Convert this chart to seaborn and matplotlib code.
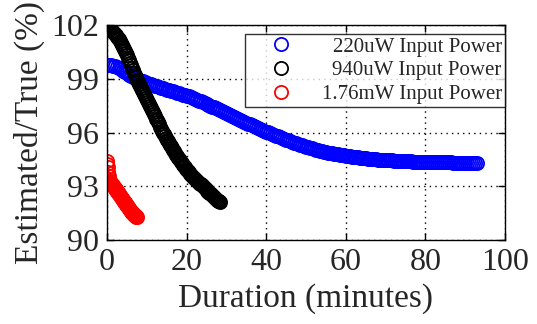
import numpy as np
import pandas as pd
import matplotlib
matplotlib.use("Agg")
import matplotlib.pyplot as plt
import seaborn as sns

# (Estimated/True % vs minutes)
labels = ["220uW Input Power", "940uW Input Power", "1.76mW Input Power"]
colors = ["#0000ff", "#000000", "#ff0000"]

# 220uW: one sample per half minute
step_220 = 0.5
y_220 = [99.75, 99.75, 99.75, 99.73, 99.70, 99.65, 99.60, 99.53, 99.45, 99.38,
         99.30, 99.22, 99.15, 99.10, 99.05, 99.00, 98.95, 98.90, 98.85, 98.80,
         98.75, 98.72, 98.68, 98.65, 98.61, 98.58, 98.54, 98.51, 98.47, 98.44,
         98.40, 98.37, 98.33, 98.30, 98.26, 98.23, 98.19, 98.16, 98.12, 98.09,
         98.05, 98.01, 97.96, 97.92, 97.87, 97.83, 97.78, 97.74, 97.69, 97.65,
         97.60, 97.55, 97.50, 97.45, 97.40, 97.35, 97.30, 97.25, 97.20, 97.15,
         97.10, 97.05, 96.99, 96.94, 96.88, 96.83, 96.77, 96.72, 96.66, 96.61,
         96.55, 96.50, 96.45, 96.40, 96.35, 96.30, 96.25, 96.20, 96.15, 96.10,
         96.05, 96.01, 95.96, 95.92, 95.87, 95.83, 95.78, 95.74, 95.69, 95.65,
         95.60, 95.56, 95.52, 95.48, 95.44, 95.40, 95.36, 95.32, 95.28, 95.24,
         95.20, 95.17, 95.14, 95.11, 95.08, 95.05, 95.02, 94.99, 94.96, 94.93,
         94.90, 94.88, 94.86, 94.84, 94.82, 94.80, 94.78, 94.76, 94.74, 94.72,
         94.70, 94.69, 94.67, 94.66, 94.64, 94.63, 94.61, 94.60, 94.58, 94.57,
         94.55, 94.54, 94.53, 94.52, 94.51, 94.50, 94.49, 94.48, 94.47, 94.46,
         94.45, 94.45, 94.44, 94.44, 94.43, 94.43, 94.42, 94.42, 94.41, 94.41,
         94.40, 94.40, 94.39, 94.39, 94.38, 94.38, 94.37, 94.37, 94.36, 94.36,
         94.35, 94.35, 94.35, 94.35, 94.34, 94.34, 94.34, 94.34, 94.33, 94.33,
         94.33, 94.33, 94.33, 94.33, 94.32, 94.32, 94.32, 94.32, 94.32, 94.32,
         94.32, 94.32, 94.32, 94.32, 94.32, 94.32, 94.32]

# 940uW: one sample per quarter minute
step_940 = 0.25
y_940 = [102.00, 101.94, 101.88, 101.82, 101.75, 101.69, 101.63, 101.57, 101.50, 101.43,
         101.35, 101.28, 101.20, 101.10, 101.00, 100.90, 100.80, 100.68, 100.55, 100.43,
         100.30, 100.17, 100.03, 99.89, 99.75, 99.62, 99.48, 99.34, 99.20, 99.08,
         98.95, 98.83, 98.70, 98.59, 98.47, 98.36, 98.25, 98.13, 98.02, 97.91,
         97.80, 97.68, 97.57, 97.46, 97.35, 97.23, 97.12, 97.01, 96.90, 96.78,
         96.67, 96.56, 96.45, 96.33, 96.22, 96.11, 96.00, 95.90, 95.80, 95.70,
         95.60, 95.50, 95.41, 95.31, 95.22, 95.13, 95.04, 94.95, 94.86, 94.77,
         94.69, 94.60, 94.52, 94.44, 94.36, 94.28, 94.20, 94.12, 94.05, 93.97,
         93.90, 93.83, 93.77, 93.71, 93.65, 93.59, 93.53, 93.47, 93.42, 93.36,
         93.31, 93.25, 93.20, 93.15, 93.10, 93.05, 93.00, 92.95, 92.90, 92.85,
         92.80, 92.75, 92.70, 92.65, 92.60, 92.55, 92.50, 92.45, 92.40, 92.35,
         92.30, 92.25, 92.20, 92.15, 92.10]

# 1.76mW: one sample per eighth of a minute
step_176 = 0.125
y_176 = [94.40, 94.25, 94.05, 93.80, 93.55, 93.40, 93.30, 93.25, 93.20, 93.16,
         93.12, 93.09, 93.05, 93.01, 92.97, 92.94, 92.90, 92.86, 92.82, 92.78,
         92.74, 92.70, 92.66, 92.62, 92.58, 92.54, 92.50, 92.46, 92.42, 92.38,
         92.34, 92.30, 92.26, 92.22, 92.18, 92.14, 92.10, 92.06, 92.02, 91.98,
         91.94, 91.90, 91.86, 91.82, 91.78, 91.74, 91.70, 91.66, 91.62, 91.58,
         91.55, 91.51, 91.48, 91.45, 91.42, 91.39, 91.37, 91.35, 91.33, 91.31,
         91.30]

x_ticks = [0, 20, 40, 60, 80, 100]
y_ticks = [90, 93, 96, 99, 102]

series = [(y_220, step_220), (y_940, step_940), (y_176, step_176)]

sns.set_style("ticks")
plt.rcParams["font.family"] = ["Liberation Serif", "DejaVu Serif"]

fig = plt.figure(figsize=(5.37, 3.24), dpi=100)
ax = fig.add_axes([107 / 537, 1 - 240 / 324, 398 / 537, 215 / 324])

for (vals, step), lab, col in zip(series, labels, colors):
    df = pd.DataFrame({"minutes": np.arange(len(vals)) * step, "ratio": vals})
    sns.lineplot(data=df, x="minutes", y="ratio", ax=ax, sort=False,
                 errorbar=None, linestyle="", marker="o", markersize=9.5,
                 markerfacecolor="none", markeredgecolor=col,
                 markeredgewidth=1.3, color=col, label=lab)

ax.set_xlim(0, 100)
ax.set_ylim(90, 102)
ax.set_xticks(x_ticks)
ax.set_yticks(y_ticks)
ax.tick_params(direction="in", length=5, width=1, top=True, right=True,
               labelsize=23, pad=6, color="black")
ax.grid(True, color="black", linestyle=(0, (1, 3)), linewidth=1)
for sp in ax.spines.values():
    sp.set_linewidth(1)
    sp.set_color("black")

ax.set_xlabel("Duration (minutes)", fontsize=24, labelpad=4)
ax.set_ylabel("Estimated/True (%)", fontsize=24, labelpad=4)

base_sep = 0.35 * 15
leg = ax.legend(loc="upper right", bbox_to_anchor=(1.0, 1 - 9 / 215),
                borderaxespad=0, fontsize=15, frameon=True, fancybox=False,
                handlelength=3.2, handletextpad=0.35, borderpad=0.15,
                labelspacing=0.2)
leg.get_frame().set_edgecolor("black")
leg.get_frame().set_linewidth(1)

# right-align the legend texts while keeping the markers in one column
fig.canvas.draw()
renderer = fig.canvas.get_renderer()
widths = [t.get_window_extent(renderer).width for t in leg.get_texts()]
wmax = max(widths)
entries = leg._legend_handle_box.get_children()[0].get_children()
for hp, w in zip(entries, widths):
    hp.sep = base_sep + (wmax - w) * 72 / fig.dpi

fig.savefig("out.png", dpi=100)
